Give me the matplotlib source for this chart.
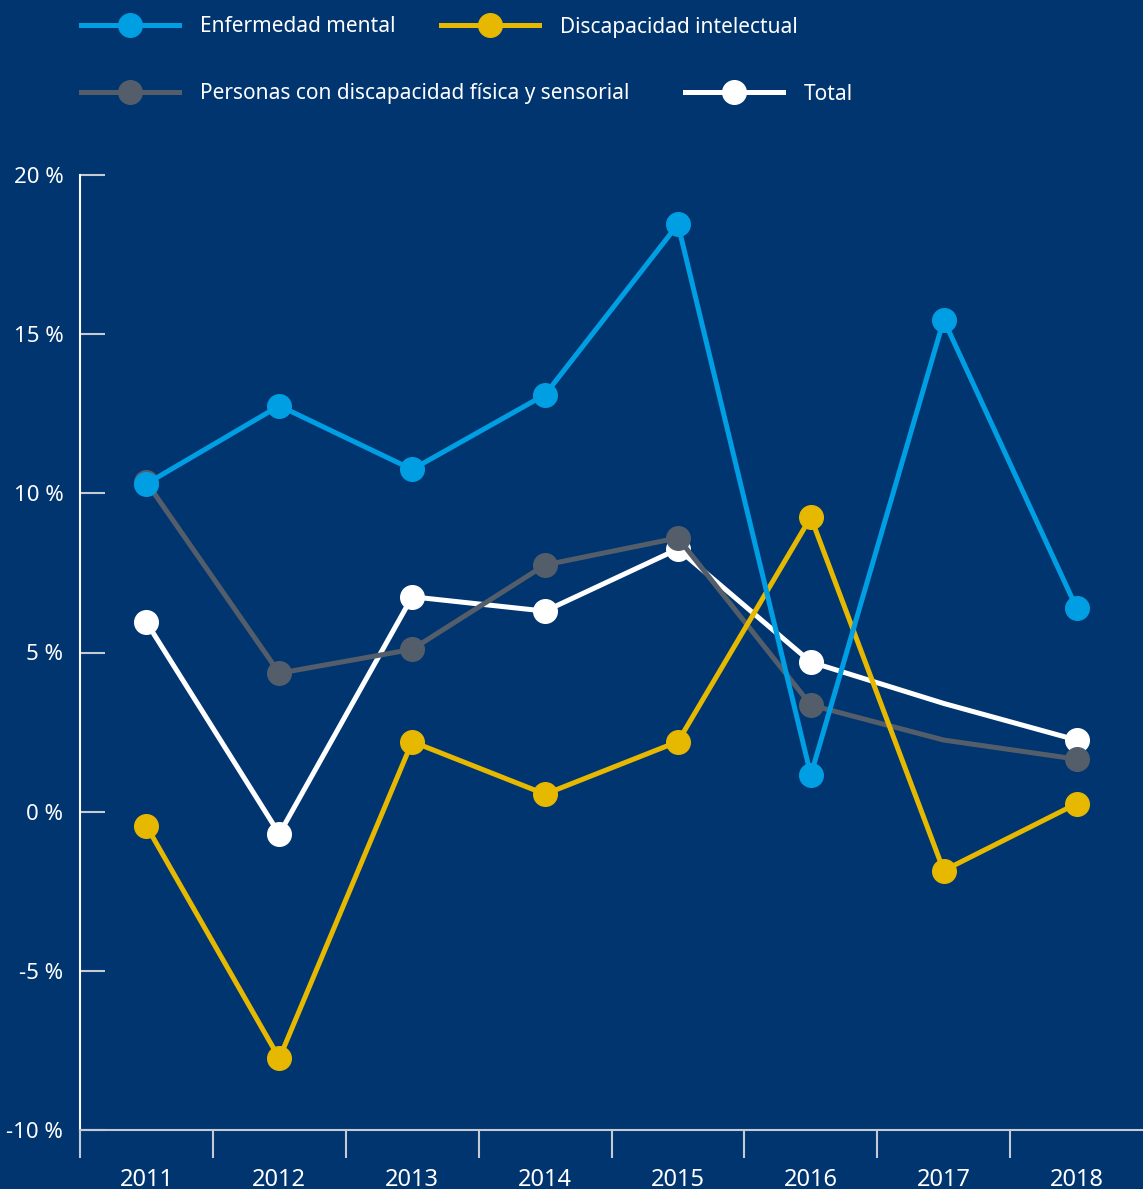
import matplotlib.pyplot as plt
from matplotlib.lines import Line2D
import numpy as np

plt.rcParams['font.family'] = ['Noto Sans', 'DejaVu Sans']

years = ['2011', '2012', '2013', '2014', '2015', '2016', '2017', '2018']
mental = [10.3, 12.75, 10.75, 13.1, 18.45, 1.15, 15.45, 6.4]
intelectual = [-0.45, -7.75, 2.2, 0.55, 2.2, 9.25, -1.85, 0.25]
fisica = [10.35, 4.35, 5.1, 7.75, 8.6, 3.35, 2.25, 1.65]
total = [5.95, -0.7, 6.75, 6.3, 8.25, 4.7, 3.4, 2.25]

bg = '#00356f'
c_mental = '#009ee2'
c_int = '#e6b800'
c_fis = '#545e6b'
c_tot = '#ffffff'
axis_col = '#c5cad3'

fig = plt.figure(figsize=(11.43, 11.89), dpi=100, facecolor=bg)
ax = fig.add_axes([0.07, 1 - 1130 / 1189, 0.93, (1130 - 175) / 1189])
ax.set_facecolor(bg)

x = np.arange(len(years))
lw = 3.6
ms = 17
no2017 = [0, 1, 2, 3, 4, 5, 7]
ax.plot(x, total, color=c_tot, lw=lw, marker='o', ms=ms, markevery=no2017, zorder=2)
ax.plot(x, fisica, color=c_fis, lw=lw, marker='o', ms=ms, markevery=no2017, zorder=3)
ax.plot(x, intelectual, color=c_int, lw=lw, marker='o', ms=ms, zorder=4)
ax.plot(x, mental, color=c_mental, lw=lw, marker='o', ms=ms, zorder=5)

ax.set_xlim(-0.5, 7.5)
ax.set_ylim(-10, 20)
ax.set_yticks([-10, -5, 0, 5, 10, 15, 20])
ax.set_yticklabels(['-10 %', '-5 %', '0 %', '5 %', '10 %', '15 %', '20 %'])
ax.set_xticks(x)
ax.set_xticklabels(years)
ax.set_xticks(np.arange(-0.5, 7.0, 1.0), minor=True)

ax.tick_params(axis='y', direction='in', length=18, width=1.5, color=axis_col,
               colors='white', labelsize=16, pad=12)
ax.tick_params(axis='x', which='major', length=0, colors='white', labelsize=17, pad=27)
ax.tick_params(axis='x', which='minor', direction='out', length=20, width=1.5, color=axis_col)

for s in ['top', 'right']:
    ax.spines[s].set_visible(False)
ax.spines['left'].set_color('white')
ax.spines['left'].set_linewidth(1.5)
ax.spines['left'].set_bounds(-10, 20)
ax.spines['bottom'].set_color(axis_col)
ax.spines['bottom'].set_linewidth(1.5)

def handle(c):
    return Line2D([], [], color=c, lw=lw, marker='o', ms=ms)

leg_kw = dict(frameon=False, handlelength=4.7, handletextpad=1.0,
              fontsize=15, labelcolor='white', ncol=2, loc='center left', borderaxespad=0)
leg1 = fig.legend([handle(c_mental), handle(c_int)],
                  ['Enfermedad mental', 'Discapacidad intelectual'],
                  bbox_to_anchor=(73 / 1143, 1 - 27 / 1189), columnspacing=2.2, **leg_kw)
leg2 = fig.legend([handle(c_fis), handle(c_tot)],
                  ['Personas con discapacidad física y sensorial', 'Total'],
                  bbox_to_anchor=(73 / 1143, 1 - 94 / 1189), columnspacing=2.68, **leg_kw)

fig.savefig('out.png', dpi=100, facecolor=bg)
